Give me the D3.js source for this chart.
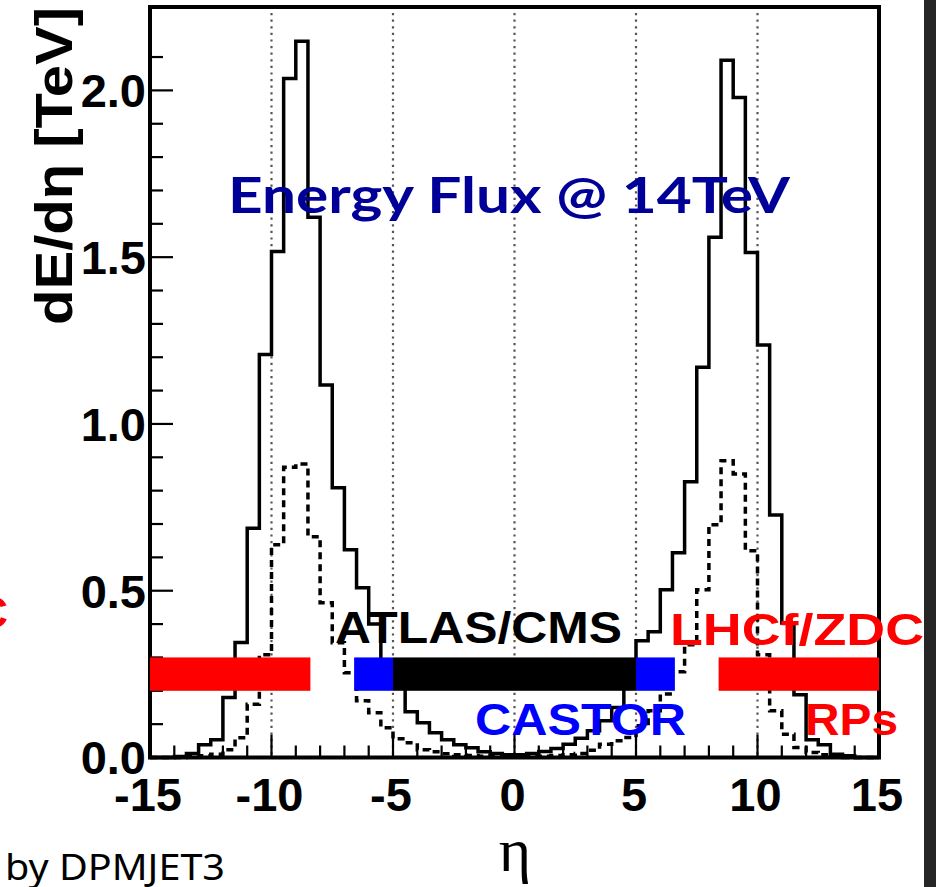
<!DOCTYPE html>
<html>
<head>
<meta charset="utf-8">
<script src="https://cdn.jsdelivr.net/npm/d3@7"></script>
<style>
html,body{margin:0;padding:0;background:#fff;}
svg{display:block;}
</style>
</head>
<body>
<svg id="chart" width="936" height="887"></svg>
<script>
// ---- data ----
const etaMin = -15;
const binWidth = 0.5;
// dE/deta [TeV], total energy flux (solid), 60 bins from -15 to 15
const solidValues = [
  0, 0, 0.003, 0.012, 0.038, 0.053, 0.18, 0.345, 0.687, 1.208,
  1.517, 2.036, 2.147, 1.62, 1.117, 0.809, 0.623, 0.509, 0.40, 0.27,
  0.21, 0.137, 0.104, 0.074, 0.053, 0.038, 0.029, 0.017, 0.012, 0.008,
  0.008, 0.012, 0.018, 0.027, 0.04, 0.058, 0.08, 0.11, 0.15, 0.21,
  0.35, 0.377, 0.503, 0.614, 0.827, 1.17, 1.56, 2.09, 1.979, 1.514,
  1.237, 0.727, 0.403, 0.188, 0.053, 0.038, 0.01, 0.005, 0, 0
];
// second (dashed) distribution
const dashedValues = [
  0, 0, 0, 0.003, 0.005, 0.01, 0.023, 0.059, 0.16, 0.308,
  0.638, 0.87, 0.88, 0.662, 0.464, 0.344, 0.254, 0.17, 0.134, 0.089,
  0.056, 0.044, 0.023, 0.017, 0.011, 0.008, 0.006, 0.004, 0.003, 0.002,
  0.002, 0.003, 0.004, 0.006, 0.008, 0.012, 0.022, 0.04, 0.05, 0.06,
  0.095, 0.14, 0.19, 0.257, 0.338, 0.503, 0.698, 0.89, 0.85, 0.62,
  0.308, 0.14, 0.07, 0.03, 0.015, 0.008, 0.004, 0, 0, 0
];
const xTickLabels = [-15, -10, -5, 0, 5, 10, 15];
const yTickLabels = [0, 0.5, 1.0, 1.5, 2.0];
const gridEta = [-10, -5, 0, 5, 10];
// detector coverage in eta
const detNames = ["RP_L", "CASTOR_L", "ATLAS/CMS", "CASTOR_R", "RP_R"];
const detFrom  = [-15, -6.6, -5, 5, 8.4];
const detTo    = [-8.4, -5, 5, 6.6, 15];
const detBand  = [0.2, 0.3];

// ---- styles ----
const detColor = {"RP_L":"#ff0000","CASTOR_L":"#0000ff","ATLAS/CMS":"#000000","CASTOR_R":"#0000ff","RP_R":"#ff0000"};

const svg = d3.select("#chart");
const x = d3.scaleLinear().domain([-15, 15]).range([150, 879]);
const y = d3.scaleLinear().domain([0, 2.25]).range([757.5, 7]);

svg.append("rect").attr("width",936).attr("height",887).attr("fill","#fff");

// grid
svg.append("g").selectAll("line").data(gridEta).join("line")
  .attr("x1", d=>x(d)).attr("x2", d=>x(d))
  .attr("y1", 13).attr("y2", y(0))
  .attr("stroke","#555").attr("stroke-width",2.2)
  .attr("stroke-dasharray","2.2,4.4");

function histPoints(vals){
  const pts = vals.map((v,i)=>[etaMin + i*binWidth, v]);
  pts.push([etaMin + vals.length*binWidth, vals[vals.length-1]]);
  return pts;
}
const line = d3.line().x(d=>x(d[0])).y(d=>y(d[1])).curve(d3.curveStepAfter);

svg.append("path").datum(histPoints(dashedValues))
  .attr("d", line).attr("fill","none").attr("stroke","#000")
  .attr("stroke-width",3.5).attr("stroke-dasharray","7,5");
svg.append("path").datum(histPoints(solidValues))
  .attr("d", line).attr("fill","none").attr("stroke","#000")
  .attr("stroke-width",3.5);

// y axis ticks
const yMinor = d3.range(0, 22).map(i=>i/10);
svg.append("g").selectAll("line").data(yMinor).join("line")
  .attr("x1", x(-15)).attr("x2", d=> x(-15) + (Math.abs(d*2 - Math.round(d*2))<1e-6 ? 23 : 13))
  .attr("y1", d=>y(d)).attr("y2", d=>y(d))
  .attr("stroke","#000").attr("stroke-width",2.2);
// x axis ticks
const xMinor = d3.range(-15, 16);
svg.append("g").selectAll("line").data(xMinor).join("line")
  .attr("x1", d=>x(d)).attr("x2", d=>x(d))
  .attr("y1", y(0)).attr("y2", d=> y(0) - (d%5===0 ? 23 : 12))
  .attr("stroke","#000").attr("stroke-width",2.2);

// frame
svg.append("rect").attr("x", x(-15)).attr("y", y(2.25))
  .attr("width", x(15)-x(-15)).attr("height", y(0)-y(2.25))
  .attr("fill","none").attr("stroke","#000").attr("stroke-width",4);

// detector bars
svg.append("g").selectAll("rect").data(detNames).join("rect")
  .attr("x", (d,i)=>x(detFrom[i])).attr("width", (d,i)=>x(detTo[i])-x(detFrom[i]))
  .attr("y", y(detBand[1])).attr("height", y(detBand[0])-y(detBand[1]))
  .attr("fill", d=>detColor[d]);

// tick labels
const tickFont = "'Liberation Sans', Arial, sans-serif";
svg.append("g").selectAll("text").data(yTickLabels).join("text")
  .attr("x", 146).attr("y", d=>y(d)).attr("dy","0.36em")
  .attr("text-anchor","end").attr("font-family",tickFont).attr("font-weight","bold")
  .attr("font-size",47).attr("fill","#000")
  .text(d=>d3.format(".1f")(d));
svg.append("g").selectAll("text").data(xTickLabels).join("text")
  .attr("x", d=>x(d)-2).attr("y", 811)
  .attr("text-anchor","middle").attr("font-family",tickFont).attr("font-weight","bold")
  .attr("font-size",47).attr("fill","#000")
  .text(d=>d);

// axis titles
svg.append("text").attr("transform","translate(72,325) rotate(-90)")
  .attr("font-family",tickFont).attr("font-weight","bold").attr("font-size",52)
  .attr("textLength",318).attr("lengthAdjust","spacingAndGlyphs")
  .text("dE/dη [TeV]");
svg.append("text").attr("x",515).attr("y",871).attr("text-anchor","middle")
  .attr("font-family","'Liberation Serif', 'DejaVu Serif', serif").attr("font-size",62)
  .text("η");

// annotations
svg.append("text").attr("x",228).attr("y",213)
  .attr("font-family","Lato, 'Open Sans', sans-serif").attr("font-weight","bold")
  .attr("font-size",50).attr("fill","#000099")
  .attr("textLength",562).attr("lengthAdjust","spacingAndGlyphs")
  .text("Energy Flux @ 14TeV");
function label(t, x0, w, yb, color){
  svg.append("text").attr("x",x0).attr("y",yb)
    .attr("font-family",tickFont).attr("font-weight","bold").attr("font-size",45)
    .attr("fill",color).attr("textLength",w).attr("lengthAdjust","spacingAndGlyphs")
    .text(t);
}
label("ATLAS/CMS", 335, 287, 643, "#000");
label("LHCf/ZDC", 670, 254, 645, "#ff0000");
label("CASTOR", 475, 211, 735, "#0000ff");
label("RPs", 805, 93, 735, "#ff0000");
// partial label at left edge
svg.append("text").attr("x",8).attr("y",628).attr("text-anchor","end")
  .attr("font-family",tickFont).attr("font-weight","bold").attr("font-size",45)
  .attr("fill","#ff0000").text("C");

svg.append("text").attr("x",5).attr("y",880)
  .attr("font-family","'Noto Sans', sans-serif").attr("font-size",36).attr("fill","#000")
  .attr("textLength",220).attr("lengthAdjust","spacingAndGlyphs")
  .text("by DPMJET3");

// dark strip at right edge
svg.append("rect").attr("x",924).attr("y",0).attr("width",12).attr("height",887).attr("fill","#262626");
</script>
</body>
</html>
